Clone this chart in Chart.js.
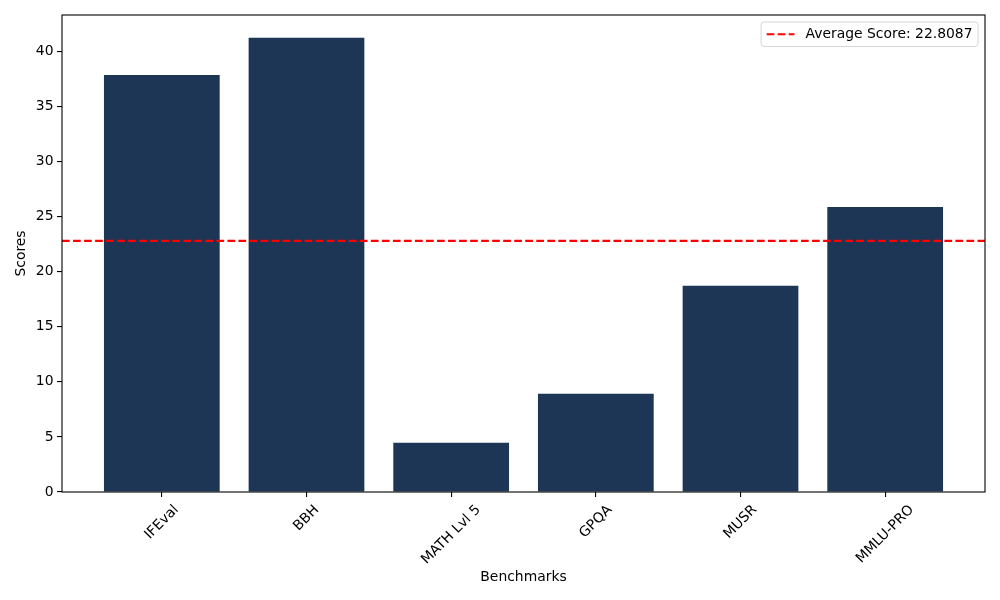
<!DOCTYPE html>
<html><head><meta charset="utf-8">
<script src="https://cdn.jsdelivr.net/npm/chart.js@4.4.0/dist/chart.umd.min.js"></script>
<style>html,body{margin:0;padding:0;background:#fff;} canvas{display:block;}</style>
</head><body>
<canvas id="c" width="1000" height="600"></canvas>
<script>
const categories = ['IFEval', 'BBH', 'MATH Lvl 5', 'GPQA', 'MUSR', 'MMLU-PRO'];
const scores = [37.87, 41.26, 4.47, 8.92, 18.72, 25.89];
const averageScore = 22.8087;
const yTicks = [0, 5, 10, 15, 20, 25, 30, 35, 40];
const yMax = 43.32;
const xMin = -0.69, xMax = 5.69;

const FONT = '"DejaVu Sans", "Liberation Sans", sans-serif';
const FS = 13.9;

const mplPlugin = {
  id: 'mpl',
  afterDatasetsDraw(chart) {
    const {ctx, chartArea: a} = chart;
    ctx.save();
    ctx.strokeStyle = '#000';
    ctx.lineWidth = 1.1;
    ctx.strokeRect(a.left, a.top, a.right - a.left, a.bottom - a.top);
    ctx.restore();
  },
  afterDraw(chart) {
    const {ctx, chartArea: a} = chart;
    const xs = chart.scales.x;
    ctx.save();
    ctx.font = FS + 'px ' + FONT;
    ctx.fillStyle = '#000';
    const h = 16.2;
    categories.forEach((c, i) => {
      const px = xs.getPixelForValue(i);
      const w = ctx.measureText(c).width;
      const cy = a.bottom + 10 + (w + h) / (2 * Math.SQRT2);
      ctx.save();
      ctx.translate(px, cy);
      ctx.rotate(-Math.PI / 4);
      ctx.textAlign = 'center';
      ctx.textBaseline = 'middle';
      ctx.fillText(c, 0, 0);
      ctx.restore();
    });
    // legend (matplotlib style, upper right inside axes)
    const ds = chart.data.datasets[0];
    const label = ds.label;
    const tw = ctx.measureText(label).width;
    const pad = 0.4 * FS, hl = 2 * FS, htp = 0.8 * FS;
    const bw = pad + hl + htp + tw + pad;
    const bh = 24.5;
    const bx = a.right - 0.5 * FS - bw;
    const by = a.top + 0.5 * FS;
    ctx.beginPath();
    if (ctx.roundRect) ctx.roundRect(bx, by, bw, bh, 3); else ctx.rect(bx, by, bw, bh);
    ctx.fillStyle = 'rgba(255,255,255,0.8)';
    ctx.fill();
    ctx.strokeStyle = 'rgba(204,204,204,0.8)';
    ctx.lineWidth = 1;
    ctx.stroke();
    const ly = by + bh / 2;
    ctx.beginPath();
    ctx.setLineDash(ds.borderDash);
    ctx.strokeStyle = ds.borderColor;
    ctx.lineWidth = ds.borderWidth;
    ctx.moveTo(bx + pad, ly);
    ctx.lineTo(bx + pad + hl, ly);
    ctx.stroke();
    ctx.setLineDash([]);
    ctx.fillStyle = '#000';
    ctx.textAlign = 'left';
    ctx.textBaseline = 'middle';
    ctx.fillText(label, bx + pad + hl + htp, ly + 0.5);
    ctx.restore();
  }
};

const tickGrid = {display: true, offset: false, drawOnChartArea: false, drawTicks: true, tickLength: 5, color: '#000', lineWidth: 1.1};

new Chart(document.getElementById('c'), {
  type: 'bar',
  data: {
    datasets: [
      {
        type: 'line',
        label: 'Average Score: ' + averageScore,
        data: [{x: xMin, y: averageScore}, {x: xMax, y: averageScore}],
        borderColor: '#ff0000',
        borderWidth: 2.08,
        borderDash: [7.7, 3.33],
        pointRadius: 0,
        fill: false,
        order: 0
      },
      {
        type: 'bar',
        label: 'Scores',
        data: categories.map((c, i) => ({x: i, y: scores[i]})),
        backgroundColor: '#1e3656',
        borderWidth: 0,
        barPercentage: 0.8,
        categoryPercentage: 1.0,
        order: 1
      }
    ]
  },
  options: {
    responsive: false,
    animation: false,
    devicePixelRatio: 1,
    layout: {padding: {top: 15, right: 15, left: 0, bottom: 0}},
    plugins: {legend: {display: false}, tooltip: {enabled: false}},
    scales: {
      x: {
        type: 'linear', min: xMin, max: xMax, offset: false,
        afterBuildTicks: s => { s.ticks = categories.map((c, i) => ({value: i})); },
        afterFit: s => { s.height = 108; },
        ticks: {display: false},
        grid: tickGrid,
        border: {display: false},
        title: {display: true, text: 'Benchmarks', color: '#000', font: {family: FONT, size: FS}, padding: {top: 0, bottom: 14.7}}
      },
      y: {
        type: 'linear', min: 0, max: yMax,
        afterBuildTicks: s => { s.ticks = yTicks.map(v => ({value: v})); },
        afterFit: s => { s.width = 62; },
        ticks: {color: '#000', font: {family: FONT, size: FS}, padding: 3.5},
        grid: tickGrid,
        border: {display: false},
        title: {display: true, text: 'Scores', color: '#000', font: {family: FONT, size: FS}, padding: {top: 13.4, bottom: 0}}
      }
    }
  },
  plugins: [mplPlugin]
});
</script>
</body></html>
